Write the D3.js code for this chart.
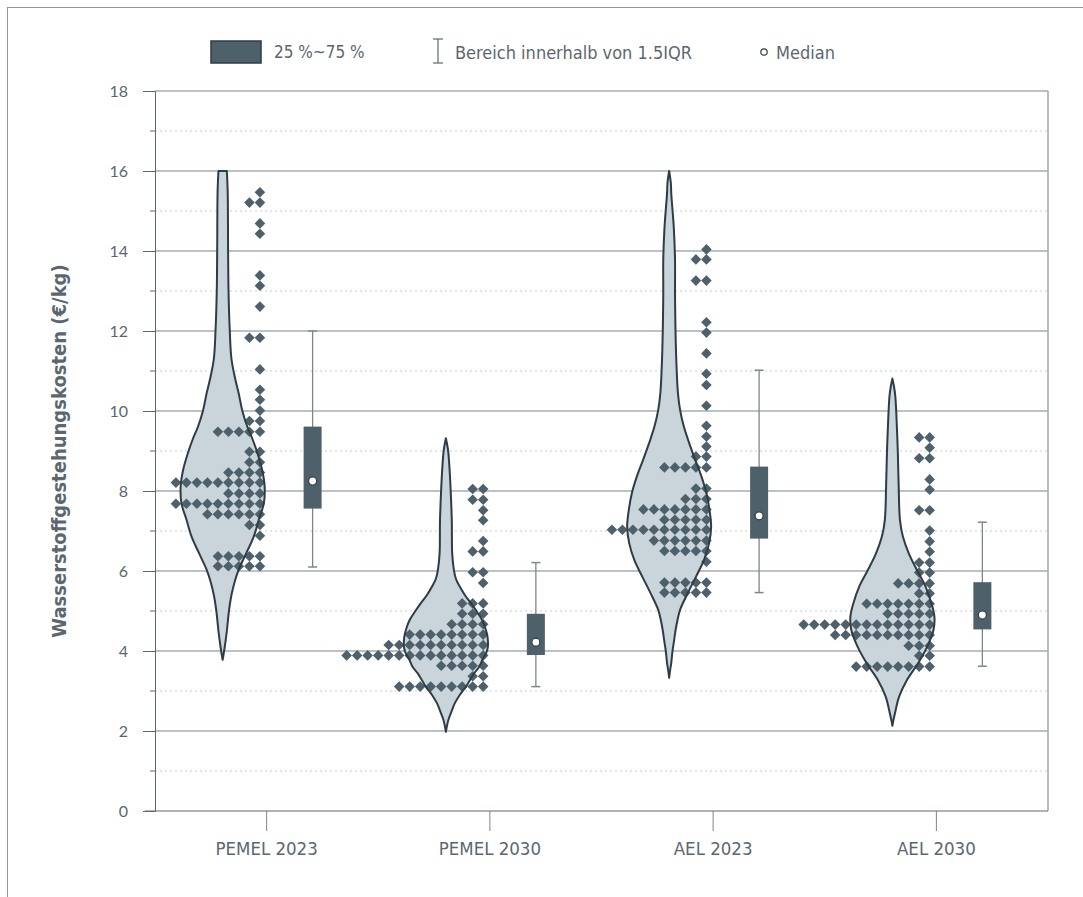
<!DOCTYPE html>
<html>
<head>
<meta charset="utf-8">
<script src="https://cdn.jsdelivr.net/npm/d3@7"></script>
<style>
  body { margin: 0; background: #ffffff; }
  .cond { font-family: "DejaVu Sans", sans-serif; font-stretch: condensed; }
  .num { font-family: "Lato", "DejaVu Sans", sans-serif; }
</style>
</head>
<body>
<svg id="chart" width="1083" height="897"></svg>
<script>
// ---- data -------------------------------------------------------------
const categories = ["PEMEL 2023", "PEMEL 2030", "AEL 2023", "AEL 2030"];
const yTickValues = [0, 2, 4, 6, 8, 10, 12, 14, 16, 18];
const yMinorValues = [1, 3, 5, 7, 9, 11, 13, 15, 17];

// individual cost estimates: [value €/kg, number of estimates at that value]
const pemel2023Points = [
  [15.47, 1], [15.21, 2], [14.69, 1], [14.43, 1], [13.39, 1], [13.13, 1], [12.61, 1],
  [11.83, 2], [11.04, 1], [10.53, 1], [10.28, 1], [10.01, 1], [9.75, 2], [9.48, 5],
  [8.98, 2], [8.72, 2], [8.46, 4], [8.21, 9], [7.94, 4], [7.68, 9], [7.42, 6],
  [7.15, 2], [6.88, 1], [6.37, 5], [6.12, 5]
];
const pemel2030Points = [
  [8.05, 2], [7.78, 2], [7.52, 1], [7.27, 1], [6.75, 1], [6.49, 2], [5.97, 2], [5.70, 1],
  [5.19, 3], [4.93, 3], [4.67, 4], [4.41, 8], [4.15, 10], [3.89, 14], [3.63, 5],
  [3.37, 2], [3.11, 9]
];
const ael2023Points = [
  [14.04, 1], [13.79, 2], [13.26, 2], [12.22, 1], [11.96, 1], [11.44, 1], [10.93, 1],
  [10.65, 1], [10.13, 1], [9.63, 1], [9.36, 1], [9.11, 1], [8.86, 2], [8.59, 5],
  [8.06, 2], [7.80, 3], [7.54, 7], [7.28, 5], [7.03, 10], [6.76, 6], [6.50, 5],
  [6.23, 1], [5.71, 5], [5.46, 5]
];
const ael2030Points = [
  [9.34, 2], [9.08, 1], [8.82, 2], [8.29, 1], [8.03, 1], [7.52, 2], [7.01, 1], [6.74, 1],
  [6.48, 1], [6.21, 2], [5.96, 2], [5.69, 4], [5.44, 2], [5.18, 7], [4.93, 5],
  [4.66, 13], [4.40, 10], [4.13, 3], [3.88, 2], [3.61, 8]
];

// violin density profiles: [value €/kg, relative density 0..1]
const pemel2023Density = [
  [16.0, 0.10], [15.5, 0.12], [14.0, 0.13], [13.0, 0.14], [12.0, 0.17], [11.3, 0.21],
  [10.8, 0.30], [10.45, 0.38], [10.0, 0.47], [9.6, 0.59], [9.3, 0.71], [8.94, 0.83],
  [8.53, 0.94], [8.11, 1.0], [7.69, 0.98], [7.28, 0.86], [6.86, 0.74], [6.44, 0.56],
  [6.03, 0.38], [5.78, 0.30], [5.4, 0.21], [5.0, 0.15], [4.5, 0.10], [4.1, 0.05], [3.78, 0]
];
const pemel2030Density = [
  [9.32, 0], [9.1, 0.04], [8.94, 0.06], [8.5, 0.09], [8.1, 0.11], [7.28, 0.14], [6.44, 0.15],
  [6.03, 0.19], [5.8, 0.24], [5.61, 0.33], [5.4, 0.45], [5.19, 0.60], [4.98, 0.74],
  [4.78, 0.86], [4.57, 0.94], [4.36, 0.99], [4.11, 1.0], [3.95, 0.96], [3.78, 0.87],
  [3.6, 0.79], [3.44, 0.67], [3.27, 0.57], [3.11, 0.48], [2.9, 0.33], [2.69, 0.21],
  [2.48, 0.13], [2.28, 0.06], [2.1, 0.02], [1.98, 0]
];
const ael2023Density = [
  [16.0, 0], [15.7, 0.04], [15.44, 0.05], [14.6, 0.11], [13.78, 0.14], [12.94, 0.14],
  [12.1, 0.15], [11.28, 0.17], [10.44, 0.21], [10.03, 0.26], [9.61, 0.35], [9.19, 0.48],
  [8.78, 0.62], [8.36, 0.77], [7.94, 0.89], [7.53, 0.96], [7.11, 1.0], [6.69, 0.95],
  [6.28, 0.83], [5.86, 0.64], [5.44, 0.44], [5.03, 0.26], [4.78, 0.20], [4.5, 0.15],
  [4.28, 0.12], [4.0, 0.08], [3.7, 0.05], [3.5, 0.02], [3.33, 0]
];
const ael2030Density = [
  [10.81, 0], [10.6, 0.04], [10.36, 0.07], [9.78, 0.10], [8.94, 0.13], [8.11, 0.15],
  [7.28, 0.18], [6.86, 0.25], [6.44, 0.39], [6.03, 0.58], [5.61, 0.79], [5.19, 0.93],
  [4.86, 1.0], [4.53, 0.98], [4.11, 0.83], [3.69, 0.61], [3.28, 0.35], [2.86, 0.16],
  [2.44, 0.06], [2.25, 0.02], [2.13, 0]
];

// box plot statistics per category
const boxQ1 = [7.56, 3.90, 6.81, 4.54];
const boxMedian = [8.25, 4.22, 7.38, 4.90];
const boxQ3 = [9.61, 4.93, 8.61, 5.72];
const whiskerLow = [6.10, 3.11, 5.46, 3.62];
const whiskerHigh = [12.0, 6.21, 11.02, 7.22];

const legendLabels = ["25 %~75 %", "Bereich innerhalb von 1.5IQR", "Median"];
const yTitle = "Wasserstoffgestehungskosten (€/kg)";

const pointSets = [pemel2023Points, pemel2030Points, ael2023Points, ael2030Points];
const densitySets = [pemel2023Density, pemel2030Density, ael2023Density, ael2030Density];

// ---- layout -----------------------------------------------------------
const W = 1083, H = 897;
const margin = { top: 91, right: 35, bottom: 86, left: 155 };
const C = {
  dark: "#4e606a", outline: "#2f3c43", violin: "#c9d4db",
  grid: "#a4aeb2", gridMinor: "#c9cfd2", axis: "#5c6870", text: "#5b6770", whisker: "#7c878d"
};

const svg = d3.select("#chart");

// outer frame
svg.append("rect")
  .attr("x", 7.5).attr("y", 7.5).attr("width", W + 20).attr("height", H + 20)
  .attr("fill", "none").attr("stroke", "#8e989d").attr("stroke-width", 1);

const x = d3.scaleBand().domain(categories).range([margin.left, W - margin.right]);
const y = d3.scaleLinear().domain([0, 18]).range([H - margin.bottom, margin.top]);
const halfWidth = d3.scaleLinear().domain([0, 1]).range([0, 42]);
const bw = x.bandwidth();
const center = c => x(c) + bw / 2;
const violinX = c => center(c) - bw * 0.197;
const dotX = c => center(c) - bw * 0.03;
const boxX = c => center(c) + bw * 0.206;
const dotStep = 10.5;
const boxW = 18;

const x0 = margin.left, x1 = W - margin.right;

// grid lines
svg.append("g").selectAll("line").data(yMinorValues).join("line")
  .attr("x1", x0).attr("x2", x1)
  .attr("y1", d => y(d)).attr("y2", d => y(d))
  .attr("stroke", C.gridMinor).attr("stroke-width", 1).attr("stroke-dasharray", "2,3");
svg.append("g").selectAll("line").data(yTickValues.filter(v => v > 0)).join("line")
  .attr("x1", x0).attr("x2", x1)
  .attr("y1", d => y(d)).attr("y2", d => y(d))
  .attr("stroke", C.grid).attr("stroke-width", 1.6);

// right frame of the plot
svg.append("line").attr("x1", x1).attr("x2", x1).attr("y1", y(18)).attr("y2", y(0))
  .attr("stroke", C.grid).attr("stroke-width", 1.6);

// y axis
const yAxis = svg.append("g").attr("transform", `translate(${x0},0)`)
  .call(d3.axisLeft(y).tickValues(yTickValues).tickSize(12).tickPadding(15).tickFormat(d3.format("d")));
yAxis.attr("font-family", null);
yAxis.select(".domain").attr("stroke", C.axis);
yAxis.selectAll(".tick line").attr("stroke", C.axis);
yAxis.selectAll(".tick text").attr("class", "num").attr("fill", C.text).attr("font-size", 16);
svg.append("g").selectAll("line").data(yMinorValues).join("line")
  .attr("x1", x0 - 5).attr("x2", x0).attr("y1", d => y(d)).attr("y2", d => y(d))
  .attr("stroke", C.axis);

// x axis
const xAxis = svg.append("g").attr("transform", `translate(0,${y(0)})`)
  .call(d3.axisBottom(x).tickSize(20).tickPadding(11));
xAxis.attr("font-family", null);
xAxis.select(".domain").remove();
svg.append("line").attr("x1", x0 - 10).attr("x2", x1).attr("y1", y(0)).attr("y2", y(0))
  .attr("stroke", C.axis);
xAxis.selectAll(".tick line").attr("stroke", C.whisker);
xAxis.selectAll(".tick text").attr("class", "cond").attr("fill", C.text).attr("font-size", 18.5);

// y title
svg.append("text").attr("class", "cond")
  .attr("transform", `translate(59,${(y(0) + y(18)) / 2}) rotate(-90)`)
  .attr("text-anchor", "middle").attr("dominant-baseline", "central")
  .attr("font-weight", "bold").attr("font-size", 20).attr("fill", C.text)
  .text(yTitle);

// violins
const violinArea = (cx) => d3.area()
  .y(d => y(d[0]))
  .x0(d => cx - halfWidth(d[1]))
  .x1(d => cx + halfWidth(d[1]))
  .curve(d3.curveCatmullRom);
const violinG = svg.append("g");
const dotsG = svg.append("g");
const outlineG = svg.append("g");

categories.forEach((c, i) => {
  const area = violinArea(violinX(c));
  violinG.append("path").datum(densitySets[i]).attr("d", area)
    .attr("fill", C.violin);
  outlineG.append("path").datum(densitySets[i]).attr("d", area)
    .attr("fill", "none").attr("stroke", C.outline).attr("stroke-width", 2)
    .attr("stroke-linejoin", "round");

  // stacked diamonds, right aligned
  const dots = [];
  pointSets[i].forEach(([v, n]) => {
    for (let k = 0; k < n; k++) dots.push({ v, k });
  });
  dotsG.selectAll(null).data(dots).join("path")
    .attr("d", d3.symbol(d3.symbolSquare, 56))
    .attr("transform", d => `translate(${dotX(c) - d.k * dotStep},${y(d.v)}) rotate(45)`)
    .attr("fill", C.dark);
});

// box plots
const boxG = svg.append("g");
categories.forEach((c, i) => {
  const bx = boxX(c);
  boxG.append("line").attr("x1", bx).attr("x2", bx)
    .attr("y1", y(whiskerHigh[i])).attr("y2", y(whiskerLow[i]))
    .attr("stroke", C.whisker).attr("stroke-width", 1.3);
  [whiskerHigh[i], whiskerLow[i]].forEach(v => {
    boxG.append("line").attr("x1", bx - 4.5).attr("x2", bx + 4.5)
      .attr("y1", y(v)).attr("y2", y(v))
      .attr("stroke", C.whisker).attr("stroke-width", 1.5);
  });
  boxG.append("rect").attr("x", bx - boxW / 2).attr("width", boxW)
    .attr("y", y(boxQ3[i])).attr("height", y(boxQ1[i]) - y(boxQ3[i]))
    .attr("fill", C.dark);
  boxG.append("circle").attr("cx", bx).attr("cy", y(boxMedian[i])).attr("r", 4)
    .attr("fill", "#ffffff").attr("stroke", C.outline).attr("stroke-width", 1.2);
});

// legend
const lg = svg.append("g");
const ly = 52;
lg.append("rect").attr("x", 211).attr("y", ly - 11).attr("width", 50).attr("height", 22)
  .attr("fill", C.dark).attr("stroke", C.outline).attr("stroke-width", 1.5);
lg.append("text").attr("class", "cond").attr("x", 274).attr("y", ly)
  .attr("dominant-baseline", "central").attr("font-size", 17).attr("fill", C.text)
  .text(legendLabels[0]);
lg.append("line").attr("x1", 438).attr("x2", 438).attr("y1", ly - 13).attr("y2", ly + 11)
  .attr("stroke", C.text).attr("stroke-width", 1.2);
[ly - 13, ly + 11].forEach(yy => lg.append("line").attr("x1", 433).attr("x2", 443)
  .attr("y1", yy).attr("y2", yy).attr("stroke", C.text).attr("stroke-width", 1.2));
lg.append("text").attr("class", "cond").attr("x", 455).attr("y", ly)
  .attr("dominant-baseline", "central").attr("font-size", 18).attr("fill", C.text)
  .text(legendLabels[1]);
lg.append("circle").attr("cx", 764).attr("cy", ly).attr("r", 3.2)
  .attr("fill", "#fff").attr("stroke", C.outline).attr("stroke-width", 1.2);
lg.append("text").attr("class", "cond").attr("x", 776).attr("y", ly)
  .attr("dominant-baseline", "central").attr("font-size", 18).attr("fill", C.text)
  .text(legendLabels[2]);
</script>
</body>
</html>
